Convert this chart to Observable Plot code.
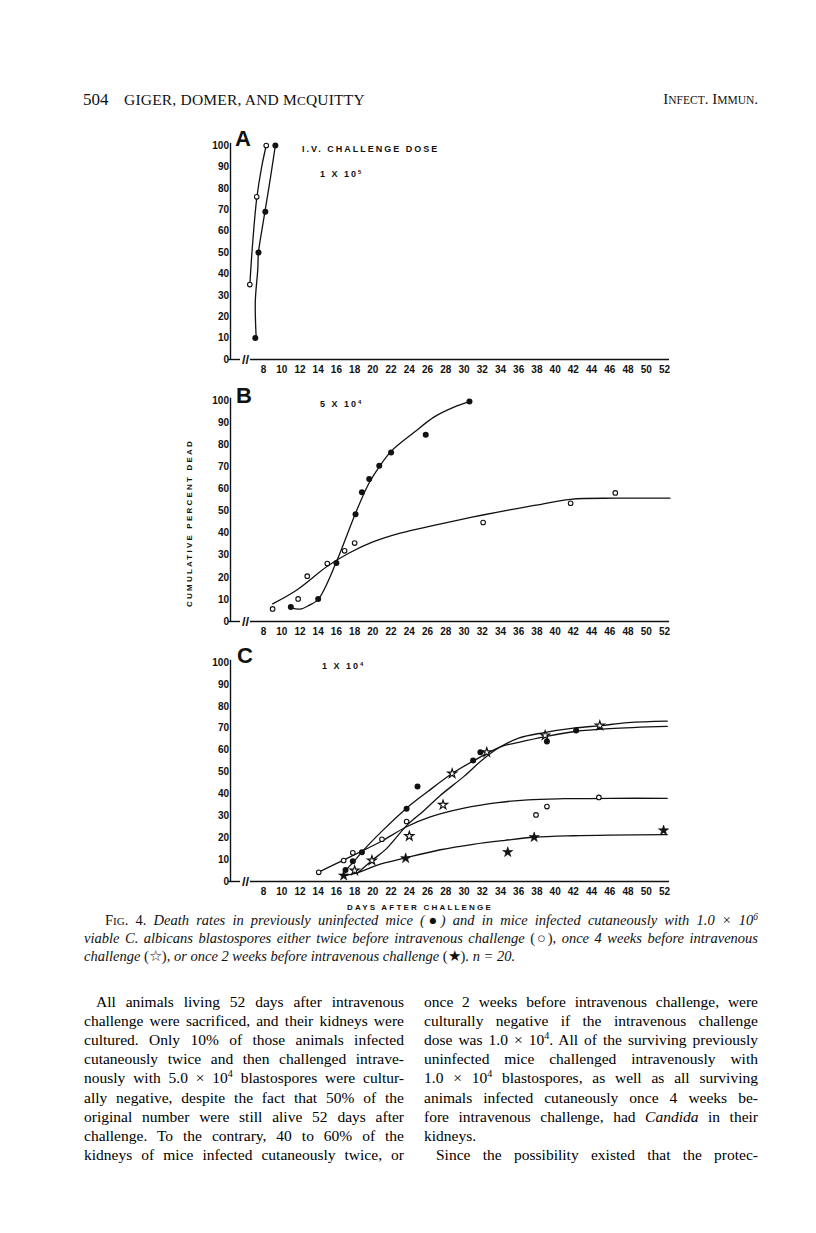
<!DOCTYPE html>
<html><head><meta charset="utf-8">
<script src="https://cdn.jsdelivr.net/npm/d3@7"></script>
<script src="https://cdn.jsdelivr.net/npm/@observablehq/plot@0.6"></script>
<style>
body{margin:0;background:#fff;}
#page{position:relative;width:816px;height:1233px;overflow:hidden;background:#fff;color:#111;}
.abs{position:absolute;white-space:nowrap;}
.serif{font-family:"Liberation Serif","DejaVu Serif",serif;}
.sans{font-family:"Liberation Sans","DejaVu Sans",sans-serif;font-weight:bold;}
.jl{position:absolute;white-space:nowrap;text-align:justify;text-align-last:justify;}
.panel{position:absolute;left:0;}
sup{font-size:65%;line-height:0;vertical-align:0.55em;}
</style></head><body><div id="page"></div>
<script>
// ---------- DATA ----------
const xTicks = [8,10,12,14,16,18,20,22,24,26,28,30,32,34,36,38,40,42,44,46,48,50,52];
const yTicks = [0,10,20,30,40,50,60,70,80,90,100];

// Panel A (1 x 10^5)
const A_uninf_day = [7.1, 7.45, 8.2, 9.3];
const A_uninf_pct = [10, 50, 69, 100];
const A_twice_day = [6.5, 7.25, 8.3];
const A_twice_pct = [35, 76, 100];
const A_uninf_curve_day = [7.2, 7.1, 7.37, 7.45, 8.0, 8.6, 9.3];
const A_uninf_curve_pct = [10, 27, 42, 50, 65, 80.5, 100];
const A_twice_curve_day = [6.5, 6.65, 6.83, 7.25, 7.8, 8.3];
const A_twice_curve_pct = [35, 45, 55.5, 75, 90, 100];

// Panel B (5 x 10^4)
const B_uninf_day = [11.0, 14.0, 16.0, 18.1, 18.8, 19.6, 20.7, 22.0, 25.8, 30.6];
const B_uninf_pct = [6.6, 10.2, 26.5, 48.5, 58.5, 64.5, 70.5, 76.5, 84.5, 99.5];
const B_twice_day = [9.0, 11.8, 12.8, 15.0, 16.9, 18.0, 32.1, 41.7, 46.6];
const B_twice_pct = [5.7, 10.2, 20.5, 26.2, 32, 35.5, 44.8, 53.5, 58.2];
const B_uninf_curve_day = [11, 12, 13, 14, 16, 18, 19.5, 20.7, 22, 24.5, 26.7, 28.9, 30.6];
const B_uninf_curve_pct = [6.3, 5.6, 7.3, 10, 27, 48, 62, 70, 77, 85.5, 92.5, 97, 99.5];
const B_twice_curve_day = [9, 11.7, 15, 17.4, 20, 23, 26.7, 29.5, 32.2, 35, 37.7, 41.7, 46.6, 52.6];
const B_twice_curve_pct = [8, 14.4, 25, 31, 36, 40, 43.5, 46, 48.3, 50.5, 52.5, 55.3, 55.8, 55.8];

// Panel C (1 x 10^4)
const C_uninf_day = [17.0, 17.8, 18.8, 23.7, 24.9, 31.0, 31.8, 39.1, 42.3];
const C_uninf_pct = [5.3, 9.3, 13.4, 33.2, 43.4, 55.3, 59, 63.9, 69];
const C_twice_day = [14.06, 16.8, 17.8, 21.0, 23.7, 37.9, 39.1, 44.8];
const C_twice_pct = [4.2, 9.6, 13.1, 19.3, 27.4, 30.4, 34.2, 38.4];
const C_4wk_day = [18.0, 19.9, 24.0, 27.7, 28.7, 32.5, 38.9, 44.9];
const C_4wk_pct = [5, 9.6, 20.7, 35, 49.3, 59, 66.7, 71.2];
const C_2wk_day = [16.8, 23.6, 34.8, 37.7, 51.9];
const C_2wk_pct = [2.7, 10.6, 13.4, 20.2, 23.3];
const C_uninf_curve_day = [17, 18, 18.8, 21, 23.7, 26, 28.7, 31, 34, 36, 38.8, 42.2, 46, 52.3];
const C_uninf_curve_pct = [5, 9.5, 13.5, 23, 33.5, 41, 49.3, 55, 61.5, 63.5, 66, 68.5, 69.8, 70.8];
const C_twice_curve_day = [14, 17, 19.5, 21, 23.7, 26.3, 30, 33.7, 37, 41, 46, 52.3];
const C_twice_curve_pct = [4.2, 10.2, 15.3, 18.5, 25, 29.5, 33.5, 36, 37.3, 37.8, 38, 38];
const C_4wk_curve_day = [18.3, 19.9, 21.5, 23.7, 25.5, 27.4, 30, 32, 34, 36, 38.8, 42, 45, 48, 52.3];
const C_4wk_curve_pct = [3.8, 9.6, 15, 25.5, 32, 39.3, 48, 55.5, 61.5, 65.5, 68, 70, 71.2, 72.5, 73.2];
const C_2wk_curve_day = [16.8, 18.5, 20.5, 23.6, 27.4, 31, 34.5, 37.7, 42, 46, 52.3];
const C_2wk_curve_pct = [2.5, 4.3, 7.5, 10.8, 14.5, 17, 18.8, 20.2, 20.9, 21.2, 21.4];

// ---------- LAYOUT ----------
const page = document.getElementById("page");
const X0 = 263, X1 = 664;
const pxPerDay = (X1 - X0) / 44;
const dayAt = px => 8 + (px - X0) / pxPerDay;
const axisDay = dayAt(230);
const SANS = "Liberation Sans, DejaVu Sans, sans-serif";
const zip = (a, b) => a.map((d, i) => ({day: d, pct: b[i]}));

function addDiv(html, cls, style) {
  const d = document.createElement("div");
  d.className = cls;
  d.innerHTML = html;
  Object.assign(d.style, style);
  page.appendChild(d);
  return d;
}

function panel({top, height, y0, y100, marks}) {
  const tickStyle = {fontSize: 10, fontWeight: "bold", fontFamily: SANS, fill: "#111"};
  const common = [
    Plot.ruleX([axisDay], {y1: 0, y2: 101, stroke: "#111", strokeWidth: 1.4}),
    Plot.ruleY([0], {x1: dayAt(228), x2: dayAt(240), stroke: "#111", strokeWidth: 1.4}),
    Plot.ruleY([0], {x1: dayAt(250), x2: dayAt(669), stroke: "#111", strokeWidth: 1.4}),
    Plot.text(["//"], {x: () => dayAt(245), y: () => 0, text: d => d, fontSize: 13, fontWeight: "bold", fontFamily: SANS, fill: "#111"}),
    Plot.text(yTicks, {x: () => axisDay, y: d => d, text: d => String(d), textAnchor: "end", dx: -1.5, ...tickStyle}),
    Plot.text(xTicks, {x: d => d, y: () => 0, text: d => String(d), dy: 10, ...tickStyle})
  ];
  const svg = Plot.plot({
    width: 816, height,
    marginLeft: 0, marginRight: 0, marginTop: 0, marginBottom: 0,
    x: {domain: [8, 52], range: [X0, X1], axis: null},
    y: {domain: [0, 100], range: [y0 - top, y100 - top], axis: null},
    style: {background: "transparent", overflow: "visible"},
    marks: [...common, ...marks]
  });
  svg.classList.add("panel");
  svg.style.top = top + "px";
  svg.style.position = "absolute";
  page.appendChild(svg);
}

const lineOpts = {x: "day", y: "pct", stroke: "#111", strokeWidth: 1.3, curve: "catmull-rom"};
const filled = data => Plot.dot(data, {x: "day", y: "pct", r: 3, fill: "#111", stroke: "none"});
const open = data => Plot.dot(data, {x: "day", y: "pct", r: 2.3, fill: "#fff", stroke: "#111", strokeWidth: 1.1});
const starOpen = data => Plot.dot(data, {x: "day", y: "pct", symbol: "star", r: 2.8, fill: "#fff", stroke: "#111", strokeWidth: 1.2});
const starFilled = data => Plot.dot(data, {x: "day", y: "pct", symbol: "star", r: 3.2, fill: "#111", stroke: "#111", strokeWidth: 0.6});

// Panel A
panel({top: 120, height: 265, y0: 359, y100: 145, marks: [
  Plot.line(zip(A_uninf_curve_day, A_uninf_curve_pct), lineOpts),
  Plot.line(zip(A_twice_curve_day, A_twice_curve_pct), lineOpts),
  open(zip(A_twice_day, A_twice_pct)),
  filled(zip(A_uninf_day, A_uninf_pct))
]});

// Panel B
panel({top: 385, height: 255, y0: 621, y100: 400, marks: [
  Plot.line(zip(B_uninf_curve_day, B_uninf_curve_pct), lineOpts),
  Plot.line(zip(B_twice_curve_day, B_twice_curve_pct), lineOpts),
  open(zip(B_twice_day, B_twice_pct)),
  filled(zip(B_uninf_day, B_uninf_pct))
]});

// Panel C
panel({top: 640, height: 260, y0: 881, y100: 662, marks: [
  Plot.line(zip(C_uninf_curve_day, C_uninf_curve_pct), lineOpts),
  Plot.line(zip(C_twice_curve_day, C_twice_curve_pct), lineOpts),
  Plot.line(zip(C_4wk_curve_day, C_4wk_curve_pct), lineOpts),
  Plot.line(zip(C_2wk_curve_day, C_2wk_curve_pct), lineOpts),
  open(zip(C_twice_day, C_twice_pct)),
  starOpen(zip(C_4wk_day, C_4wk_pct)),
  starFilled(zip(C_2wk_day, C_2wk_pct)),
  filled(zip(C_uninf_day, C_uninf_pct))
]});

// ---------- TEXT ----------
// running header
addDiv("504", "abs serif", {left: "83px", top: "90px", fontSize: "17px"});
addDiv("GIGER, DOMER, AND M<span style='font-size:13px'>C</span>QUITTY", "abs serif", {left: "124px", top: "91px", fontSize: "15.5px", letterSpacing: "0.2px"});
addDiv("I<span style='font-size:11.5px'>NFECT</span>. I<span style='font-size:11.5px'>MMUN</span>.", "abs serif", {right: "58px", top: "91px", fontSize: "15px"});

// panel letters and dose labels
const letter = {fontSize: "22px", fontFamily: SANS, fontWeight: "bold"};
addDiv("A", "abs sans", Object.assign({left: "235px", top: "126px"}, letter));
addDiv("B", "abs sans", Object.assign({left: "236px", top: "383px"}, letter));
addDiv("C", "abs sans", Object.assign({left: "237px", top: "643px"}, letter));
const small = {fontSize: "9px", letterSpacing: "2px"};
addDiv("I.V. CHALLENGE DOSE", "abs sans", Object.assign({left: "302px", top: "144px"}, small));
addDiv("1 X 10<sup>5</sup>", "abs sans", Object.assign({left: "320px", top: "169px"}, small));
addDiv("5 X 10<sup>4</sup>", "abs sans", Object.assign({left: "320px", top: "399px"}, small));
addDiv("1 X 10<sup>4</sup>", "abs sans", Object.assign({left: "322px", top: "661px"}, small));

// axis titles
addDiv("CUMULATIVE PERCENT DEAD", "abs sans", {left: "189px", top: "523px", fontSize: "8px", letterSpacing: "2.2px", transform: "translate(-50%,-50%) rotate(-90deg)"});
addDiv("DAYS AFTER CHALLENGE", "abs sans", {left: "420px", top: "907px", fontSize: "8px", letterSpacing: "2.2px", transform: "translate(-50%,-50%)"});

// caption
const capStyle = {fontSize: "14.5px", fontStyle: "italic", lineHeight: "18px"};
addDiv("<span style='font-style:normal'>F<span style='font-size:11px'>IG</span>. 4.</span> Death rates in previously uninfected mice (●) and in mice infected cutaneously with 1.0 × 10<sup>6</sup>", "jl serif", Object.assign({left: "105px", width: "653px", top: "911px"}, capStyle));
addDiv("viable C. albicans blastospores either twice before intravenous challenge <span style='font-style:normal'>(○)</span>, once 4 weeks before intravenous", "jl serif", Object.assign({left: "84px", width: "674px", top: "929px"}, capStyle));
addDiv("challenge <span style='font-style:normal'>(☆)</span>, or once 2 weeks before intravenous challenge <span style='font-style:normal'>(★)</span>. n = 20.", "abs serif", Object.assign({left: "84px", top: "947px"}, capStyle));

// body text
const leftLines = [
  "All animals living 52 days after intravenous",
  "challenge were sacrificed, and their kidneys were",
  "cultured. Only 10% of those animals infected",
  "cutaneously twice and then challenged intrave-",
  "nously with 5.0 × 10<sup>4</sup> blastospores were cultur-",
  "ally negative, despite the fact that 50% of the",
  "original number were still alive 52 days after",
  "challenge. To the contrary, 40 to 60% of the",
  "kidneys of mice infected cutaneously twice, or"
];
const rightLines = [
  "once 2 weeks before intravenous challenge, were",
  "culturally negative if the intravenous challenge",
  "dose was 1.0 × 10<sup>4</sup>. All of the surviving previously",
  "uninfected mice challenged intravenously with",
  "1.0 × 10<sup>4</sup> blastospores, as well as all surviving",
  "animals infected cutaneously once 4 weeks be-",
  "fore intravenous challenge, had <i>Candida</i> in their",
  "kidneys.",
  "Since the possibility existed that the protec-"
];
const bodyStyle = {fontSize: "15.5px", lineHeight: "19px", color: "#000"};
const bodyTop = 992, lineStep = 19.1;
leftLines.forEach((t, i) => {
  const indent = i === 0 ? 12 : 0;
  addDiv(t, "jl serif", Object.assign({left: (84 + indent) + "px", width: (320 - indent) + "px", top: (bodyTop + i * lineStep) + "px"}, bodyStyle));
});
rightLines.forEach((t, i) => {
  const indent = i === 8 ? 12 : 0;
  const cls = i === 7 ? "abs serif" : "jl serif";
  addDiv(t, cls, Object.assign({left: (424 + indent) + "px", width: (334 - indent) + "px", top: (bodyTop + i * lineStep) + "px"}, bodyStyle));
});
</script></body></html>
